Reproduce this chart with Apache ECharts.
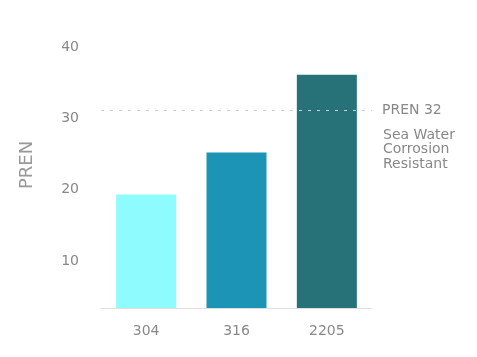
<!DOCTYPE html>
<html>
<head>
<meta charset="utf-8">
<script src="https://cdn.jsdelivr.net/npm/echarts@6/dist/echarts.min.js"></script>
<style>
html,body{margin:0;padding:0;background:#fff;}
#c{width:477px;height:357px;}
</style>
</head>
<body>
<div id="c"></div>
<script>
const categories = ['304', '316', '2205'];
const prenValues = [19.3, 25.2, 36.1];
const barColors = ['#8efcff', '#1b94b5', '#277179'];
const yTickValues = [10, 20, 30, 40];
const thresholdPosition = 31.1;
const thresholdLabel = 'PREN 32';
const noteLines = ['Sea Water', 'Corrosion', 'Resistant'];

const chart = echarts.init(document.getElementById('c'), null, {renderer: 'canvas'});
const font = '"DejaVu Sans", Verdana, sans-serif';
chart.setOption({
  animation: false,
  backgroundColor: '#fff',
  grid: {left: 101, right: 105, top: 47, bottom: 49},
  xAxis: {
    type: 'category',
    data: categories,
    axisLine: {lineStyle: {color: '#e2dede', width: 1}},
    axisTick: {show: false},
    axisLabel: {color: '#888', fontSize: 14, fontFamily: font, margin: 16}
  },
  yAxis: {
    type: 'value',
    min: 3.4,
    max: 40,
    axisLine: {show: false},
    axisTick: {show: false},
    splitLine: {show: false},
    axisLabel: {
      color: '#888', fontSize: 14, fontFamily: font, margin: 22,
      customValues: yTickValues
    }
  },
  series: [{
    type: 'bar',
    barWidth: 60,
    data: prenValues.map((v, i) => ({value: v, itemStyle: {color: barColors[i]}})),
    markLine: {
      silent: true,
      symbol: ['none', 'none'],
      lineStyle: {color: '#cfcfcf', type: [3, 6], width: 1},
      label: {
        show: true, position: 'end', distance: 10,
        formatter: thresholdLabel, color: '#888', fontSize: 14, fontFamily: font
      },
      data: [{yAxis: thresholdPosition}]
    }
  }],
  graphic: [
    {
      type: 'text', x: 27, y: 165, rotation: Math.PI / 2,
      style: {text: 'PREN', fill: '#999', fontSize: 18, fontFamily: font,
        textAlign: 'center', textVerticalAlign: 'middle'}
    },
    {
      type: 'text', left: 383, top: 128,
      style: {text: noteLines.join('\n'), fill: '#888', fontSize: 14, lineHeight: 14.5, fontFamily: font}
    }
  ]
});
</script>
</body>
</html>
